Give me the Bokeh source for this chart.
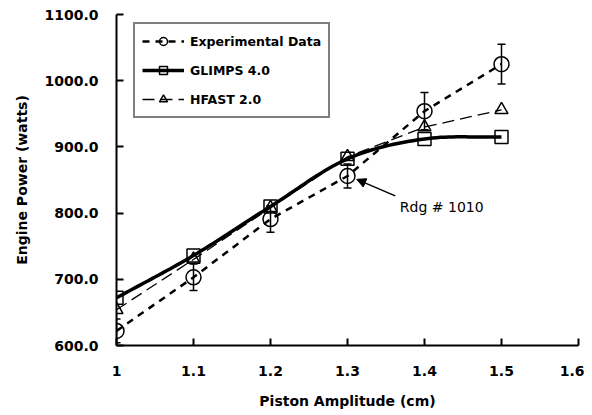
import numpy as np
from bokeh.plotting import figure
from bokeh.models import (ColumnDataSource, Whisker, TeeHead, Legend, LegendItem,
                          FixedTicker, CustomJSTickFormatter, PrintfTickFormatter,
                          Label, Arrow, NormalHead, Range1d)
from bokeh.embed import file_html
from bokeh.resources import INLINE

# ---- data ----
amplitude = [1.0, 1.1, 1.2, 1.3, 1.4, 1.5]
experimental = [622, 703, 791, 856, 954, 1025]
exp_err = [18, 20, 20, 18, 28, 30]
glimps = [672, 736, 810, 882, 912, 915]
hfast = [654, 730, 808, 885, 930, 956]
x_ticks = [1.0, 1.1, 1.2, 1.3, 1.4, 1.5, 1.6]
y_ticks = [600, 700, 800, 900, 1000, 1100]

FONT = "DejaVu Sans"

p = figure(frame_width=462, frame_height=331, output_backend="svg",
           toolbar_location=None, x_range=Range1d(1.0, 1.6),
           y_range=Range1d(600, 1100),
           min_border_left=116, min_border_right=6, min_border_top=14,
           min_border_bottom=62)
p.outline_line_color = None
p.grid.visible = False
p.background_fill_color = "white"

for ax in (p.xaxis[0], p.yaxis[0]):
    ax.axis_line_width = 2
    ax.axis_line_color = "black"
    ax.major_tick_in = 7
    ax.major_tick_out = 0
    ax.minor_tick_line_color = None
    ax.major_tick_line_width = 2
    ax.major_tick_line_color = "black"
    ax.major_label_text_font = FONT
    ax.major_label_text_font_size = "14px"
    ax.major_label_text_font_style = "bold"
    ax.major_label_text_color = "black"
    ax.axis_label_text_font = FONT
    ax.axis_label_text_font_size = "14px"
    ax.axis_label_text_font_style = "bold"
    ax.axis_label_text_color = "black"

p.xaxis.ticker = FixedTicker(ticks=x_ticks)
p.xaxis.formatter = CustomJSTickFormatter(code="return String(Math.round(tick*10)/10);")
p.xaxis.axis_label = "Piston Amplitude (cm)"
p.xaxis.major_label_standoff = 20
p.xaxis.axis_label_standoff = 14

p.yaxis.ticker = FixedTicker(ticks=y_ticks)
p.yaxis.formatter = PrintfTickFormatter(format="%.1f")
p.yaxis.axis_label = "Engine Power (watts)"
p.yaxis.major_label_standoff = 18
p.yaxis.axis_label_standoff = 11


def smooth(xs, ys, n=20):
    xs = np.asarray(xs, float)
    ys = np.asarray(ys, float)
    m = np.gradient(ys, xs)
    ox, oy = [], []
    for i in range(len(xs) - 1):
        h = xs[i + 1] - xs[i]
        t = np.linspace(0, 1, n, endpoint=(i == len(xs) - 2))
        h00 = 2 * t**3 - 3 * t**2 + 1
        h10 = t**3 - 2 * t**2 + t
        h01 = -2 * t**3 + 3 * t**2
        h11 = t**3 - t**2
        ox.extend(xs[i] + t * h)
        oy.extend(h00 * ys[i] + h10 * h * m[i] + h01 * ys[i + 1] + h11 * h * m[i + 1])
    return ox, oy


src_exp = ColumnDataSource(dict(x=amplitude, y=experimental,
                                lo=[v - e for v, e in zip(experimental, exp_err)],
                                hi=[v + e for v, e in zip(experimental, exp_err)]))
src_gl = ColumnDataSource(dict(x=amplitude, y=glimps))
src_hf = ColumnDataSource(dict(x=amplitude, y=hfast))

# HFAST
hf_line = p.line("x", "y", source=src_hf, line_color="black", line_width=1.3,
                 line_dash="12 6")
hf_mark = p.scatter("x", "y", source=src_hf, marker="triangle", size=13,
                    fill_alpha=0, line_color="black", line_width=1.5)

# GLIMPS
gx, gy = smooth(amplitude, glimps)
gl_line = p.line(gx, gy, line_color="black", line_width=3.5)
gl_mark = p.scatter("x", "y", source=src_gl, marker="square", size=13,
                    fill_alpha=0, line_color="black", line_width=1.5)

# Experimental
ex_line = p.line("x", "y", source=src_exp, line_color="black", line_width=2.5,
                 line_dash="7 6")
p.add_layout(Whisker(source=src_exp, base="x", lower="lo", upper="hi",
                     line_color="black", line_width=1.5,
                     upper_head=TeeHead(size=8, line_width=1.5),
                     lower_head=TeeHead(size=8, line_width=1.5)))
ex_mark = p.scatter("x", "y", source=src_exp, marker="circle", size=15,
                    fill_alpha=0, line_color="black", line_width=1.5)

legend = Legend(items=[
    LegendItem(label="Experimental Data", renderers=[ex_line, ex_mark]),
    LegendItem(label="GLIMPS 4.0", renderers=[gl_line, gl_mark]),
    LegendItem(label="HFAST 2.0", renderers=[hf_line, hf_mark]),
], location=(17, 227))
legend.border_line_color = "black"
legend.border_line_width = 2
legend.label_text_font = FONT
legend.label_text_font_size = "12.5px"
legend.label_text_font_style = "bold"
legend.label_text_color = "black"
legend.glyph_width = 42
legend.label_standoff = 6
legend.label_height = 20
legend.glyph_height = 20
legend.spacing = 9
legend.padding = 7
legend.background_fill_alpha = 1
p.add_layout(legend)

p.add_layout(Label(x=1.368, y=797, text="Rdg # 1010", text_font=FONT,
                   text_font_size="14px", text_color="black"))
p.add_layout(Arrow(x_start=1.362, y_start=826, x_end=1.312, y_end=851,
                   line_width=1.5, line_color="black",
                   end=NormalHead(size=9, fill_color="black", line_color="black")))

open("out.html", "w").write(file_html(p, INLINE))
